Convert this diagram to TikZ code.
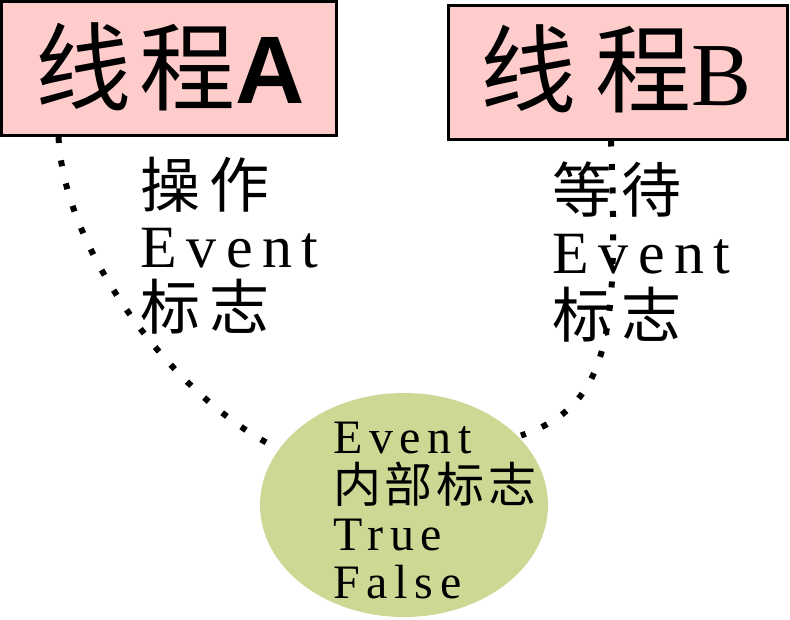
\documentclass[tikz,border=0pt]{standalone}
\usepackage{fontspec}
\usetikzlibrary{shapes.geometric}
\newfontfamily\cjk{Noto Sans CJK SC}
\newfontfamily\serf{Liberation Serif}
\newfontfamily\sansf{Liberation Sans}
\definecolor{boxpink}{RGB}{255,204,204}
\definecolor{ellgreen}{RGB}{204,217,148}
\tikzset{
  threadbox/.style={draw=black, line width=3pt, fill=boxpink, inner sep=0pt},
  dotline/.style={line width=6pt, dash pattern=on 6pt off 17.5pt, line cap=butt},
  lbl/.style={inner sep=0pt, anchor=base west, font=\fontsize{60}{60}\selectfont},
  elbl/.style={inner sep=0pt, anchor=base west, font=\fontsize{48}{48}\selectfont},
}
\newcommand{\cjkls}[2]{{\cjk\addfontfeature{LetterSpace=#1}#2}}
\newcommand{\serls}[2]{{\serf\addfontfeature{LetterSpace=#1}#2}}
\begin{document}
\begin{tikzpicture}[x=1pt,y=-1pt]
\useasboundingbox (0,0) rectangle (790,619);
% boxes
\node[threadbox, minimum width=335pt, minimum height=134pt] (boxA) at (169,68.5) {};
\node[threadbox, minimum width=339pt, minimum height=134pt] (boxB) at (617.5,72) {};
\node[inner sep=0pt, anchor=base] (tA) at (170,103) {\fontsize{96}{96}\selectfont\cjkls{8}{线程}{\sansf\bfseries A}};
\node[inner sep=0pt, anchor=base] (tB) at (616,105) {\fontsize{96}{96}\selectfont\cjkls{20}{线程}{\serf\fontsize{90}{90}\selectfont B}};
% ellipse
\node[ellipse, fill=ellgreen, minimum width=288pt, minimum height=224pt, inner sep=0pt] (ell) at (404,505) {};
\node[elbl] (e1) at (333,453) {\serls{14}{Event}};
\node[elbl] (e2) at (333,502) {\cjkls{8}{内部标志}};
\node[elbl] (e3) at (333,550) {\serls{14}{True}};
\node[elbl] (e4) at (333,598) {\serls{14}{False}};
% labels
\node[lbl] (a1) at (140,207) {\cjkls{16}{操作}};
\node[lbl] (a2) at (140,267) {\serls{16}{Event}};
\node[lbl] (a3) at (140,329) {\cjkls{16}{标志}};
\node[lbl] (b1) at (552,212) {\cjkls{16}{等待}};
\node[lbl] (b2) at (552,273) {\serls{16}{Event}};
\node[lbl] (b3) at (552,337) {\cjkls{16}{标志}};
% connectors
\draw[dotline, shorten >=13pt] ([xshift=58.5pt]boxA.south west) .. controls (64,250) and (170,390) .. (ell.156);
\draw[dotline, shorten >=3pt] ([xshift=164.5pt]boxB.south west) .. controls (618,330) and (612,405) .. (ell.31);
\end{tikzpicture}
\end{document}
